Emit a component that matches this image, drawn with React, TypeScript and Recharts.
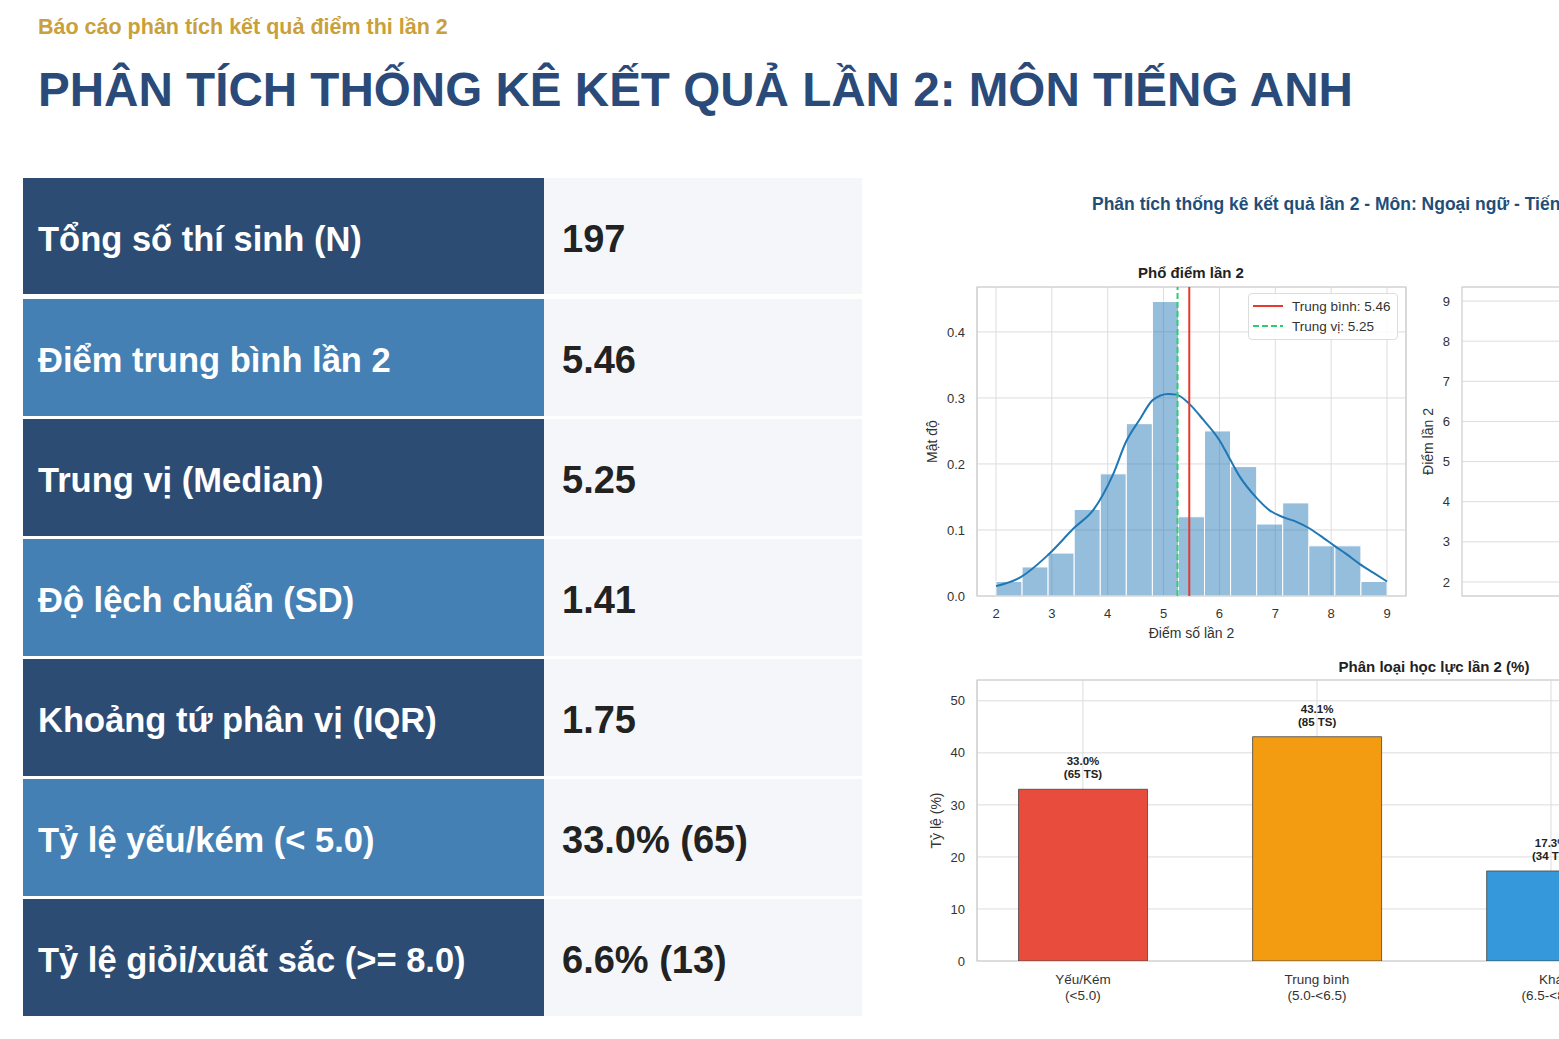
import React from 'react';
import {
  ComposedChart, Bar, Line, XAxis, YAxis, CartesianGrid,
  ReferenceLine, ReferenceArea, LabelList, Cell,
} from 'recharts';

const FONT = '"Liberation Sans", Arial, Helvetica, sans-serif';

// summary table
const statLabels = [
  'Tổng số thí sinh (N)',
  'Điểm trung bình lần 2',
  'Trung vị (Median)',
  'Độ lệch chuẩn (SD)',
  'Khoảng tứ phân vị (IQR)',
  'Tỷ lệ yếu/kém (< 5.0)',
  'Tỷ lệ giỏi/xuất sắc (>= 8.0)',
];
const statValues = ['197', '5.46', '5.25', '1.41', '1.75', '33.0% (65)', '6.6% (13)'];

// histogram (density) of scores, 15 bins from 2 to 9
const binEdges = [2.0, 2.467, 2.933, 3.4, 3.867, 4.333, 4.8, 5.267, 5.733, 6.2, 6.667, 7.133, 7.6, 8.067, 8.533, 9.0];
const binDensity = [0.022, 0.044, 0.065, 0.131, 0.185, 0.261, 0.446, 0.12, 0.25, 0.196, 0.109, 0.141, 0.076, 0.076, 0.022];

// kde curve
const kdeX = [2.0, 2.45, 2.93, 3.41, 3.74, 4.09, 4.33, 4.57, 4.81, 5.08, 5.23, 5.46, 5.71, 6.0, 6.19, 6.37, 6.66, 6.91, 7.15, 7.39, 7.6, 7.81, 8.06, 8.28, 8.52, 8.76, 9.0];
const kdeY = [0.015, 0.029, 0.062, 0.104, 0.13, 0.183, 0.234, 0.267, 0.297, 0.306, 0.305, 0.291, 0.267, 0.236, 0.207, 0.18, 0.149, 0.129, 0.119, 0.112, 0.103, 0.091, 0.076, 0.063, 0.048, 0.035, 0.022];

const meanScore = 5.46;
const medianScore = 5.25;

const histTicksX = [2, 3, 4, 5, 6, 7, 8, 9];
const histTicksY = [0, 0.1, 0.2, 0.3, 0.4];
const boxTicksY = [2, 3, 4, 5, 6, 7, 8, 9];
const pctTicks = [0, 10, 20, 30, 40, 50];

// classification bars
const classNames = ['Yếu/Kém', 'Trung bình', 'Khá', 'Giỏi'];
const classRanges = ['(<5.0)', '(5.0-<6.5)', '(6.5-<8.0)', '(>=8.0)'];
const classPct = [33.0, 43.1, 17.3, 6.6];
const classCount = [65, 85, 34, 13];
const classColors = ['#e74c3c', '#f39c12', '#3498db', '#2ecc71'];

const kdeData = kdeX.map((x, i) => ({ x, d: kdeY[i] }));
const classData = classNames.map((n, i) => ({ pos: i, pct: classPct[i], count: classCount[i] }));

const at = (x: number, y: number): React.CSSProperties => ({ position: 'absolute', left: x, top: y });

const tickStyle = { fontSize: 13, fill: '#333', fontFamily: FONT };
const axisTitle = { fontSize: 14, fill: '#333', fontFamily: FONT };
const GRID = '#dcdcdc';
const FRAME = '#cccccc';

function ClassTick(props: any) {
  const { x, y, payload } = props;
  const i = payload.value;
  return (
    <text x={x} y={y} textAnchor="middle" fontSize={13.5} fill="#333" fontFamily={FONT}>
      <tspan x={x} dy={15}>{classNames[i]}</tspan>
      <tspan x={x} dy={16}>{classRanges[i]}</tspan>
    </text>
  );
}

function PctLabel(props: any) {
  const { x, y, width, index } = props;
  const cx = x + width / 2;
  return (
    <text textAnchor="middle" fontSize={11.5} fontWeight="bold" fill="#222" fontFamily={FONT}>
      <tspan x={cx} y={y - 24}>{classPct[index].toFixed(1)}%</tspan>
      <tspan x={cx} y={y - 11}>({classCount[index]} TS)</tspan>
    </text>
  );
}

function StatTable() {
  return (
    <>
      {statLabels.map((label, i) => {
        const top = i === 0 ? 178 : 179 + 120 * i;
        const h = i === 0 ? 116 : 117;
        return (
          <div key={label} style={{ ...at(23, top), width: 839, height: h, display: 'flex' }}>
            <div style={{
              width: 521, height: '100%', background: i % 2 === 0 ? '#2c4c74' : '#4580b5',
              display: 'flex', alignItems: 'center', paddingLeft: 15, paddingTop: 6, boxSizing: 'border-box',
              color: '#fff', fontWeight: 'bold', fontSize: 34.5,
            }}>{label}</div>
            <div style={{
              width: 318, height: '100%', background: '#f4f6fa',
              display: 'flex', alignItems: 'center', paddingLeft: 18, paddingTop: 6, boxSizing: 'border-box',
              color: '#222', fontWeight: 'bold', fontSize: 38,
            }}>{statValues[i]}</div>
          </div>
        );
      })}
    </>
  );
}

function HistChart() {
  return (
    <div style={{ ...at(920, 260), width: 500, height: 396 }}>
      <ComposedChart width={500} height={396} data={kdeData} margin={{ top: 27, right: 14, bottom: 20, left: 0 }}>
        <CartesianGrid stroke={GRID} strokeWidth={1} />
        <XAxis
          dataKey="x" type="number" domain={[1.66, 9.34]} allowDataOverflow ticks={histTicksX}
          tick={tickStyle} tickSize={0} tickMargin={13} axisLine={false} height={40}
          label={{ value: 'Điểm số lần 2', position: 'center', dy: 17, style: axisTitle }}
        />
        <YAxis
          type="number" domain={[0, 0.468]} allowDataOverflow ticks={histTicksY}
          tickFormatter={(v: number) => v.toFixed(1)}
          tick={tickStyle} tickSize={0} tickMargin={12} axisLine={false} width={57}
          label={{ value: 'Mật độ', angle: -90, position: 'center', dx: -16, style: axisTitle }}
        />
        {binDensity.map((d, i) => (
          <ReferenceArea
            key={i} x1={binEdges[i]} x2={binEdges[i + 1]} y1={0} y2={d}
            fill="#1f77b4" fillOpacity={0.48} stroke="#ffffff" strokeWidth={1} strokeOpacity={1}
          />
        ))}
        <ReferenceArea y1={0} y2={0.468} fill="none" stroke={FRAME} strokeWidth={1.2} strokeOpacity={1} />
        <Line type="monotone" dataKey="d" stroke="#1f77b4" strokeWidth={2} dot={false} isAnimationActive={false} />
        <ReferenceLine x={medianScore} stroke="#2ecc71" strokeWidth={2} strokeDasharray="6 3" />
        <ReferenceLine x={meanScore} stroke="#e63a2e" strokeWidth={2} />
      </ComposedChart>
      <div style={{
        position: 'absolute', left: 1248 - 920, top: 293 - 260, width: 150, height: 47,
        border: '1px solid #dddddd', borderRadius: 4, background: 'rgba(255,255,255,0.85)',
        boxSizing: 'border-box', fontSize: 13.5, color: '#333', fontFamily: FONT,
      }}>
        {[
          { text: `Trung bình: ${meanScore.toFixed(2)}`, color: '#e63a2e', dash: false },
          { text: `Trung vị: ${medianScore.toFixed(2)}`, color: '#2ecc71', dash: true },
        ].map((r, i) => (
          <div key={i} style={{ position: 'absolute', left: 4, top: 4 + i * 20, height: 16, display: 'flex', alignItems: 'center' }}>
            <svg width={30} height={4} style={{ marginRight: 9 }}>
              <line x1={0} y1={2} x2={30} y2={2} stroke={r.color} strokeWidth={2} strokeDasharray={r.dash ? '6 3' : undefined} />
            </svg>
            <span>{r.text}</span>
          </div>
        ))}
      </div>
    </div>
  );
}

function BoxChart() {
  return (
    <div style={{ ...at(1410, 260), width: 600, height: 376 }}>
      <ComposedChart width={600} height={376} data={[{ k: 'Tiếng Anh' }]} margin={{ top: 27, right: 119, bottom: 40, left: 0 }}>
        <CartesianGrid stroke={GRID} strokeWidth={1} vertical={false} />
        <XAxis dataKey="k" type="category" hide />
        <YAxis
          type="number" domain={[1.65, 9.35]} allowDataOverflow ticks={boxTicksY}
          tick={tickStyle} tickSize={0} tickMargin={12} axisLine={false} width={52}
          label={{ value: 'Điểm lần 2', angle: -90, position: 'center', dx: -8, style: axisTitle }}
        />
        <ReferenceArea y1={1.65} y2={9.35} fill="none" stroke={FRAME} strokeWidth={1.2} strokeOpacity={1} />
      </ComposedChart>
    </div>
  );
}

function ClassChart() {
  return (
    <div style={{ ...at(920, 640), width: 1000, height: 371 }}>
      <ComposedChart width={1000} height={371} data={classData} margin={{ top: 40, right: 29, bottom: 0, left: 0 }} barCategoryGap="22.5%">
        <CartesianGrid stroke={GRID} strokeWidth={1} />
        <XAxis
          dataKey="pos" type="number" domain={[-0.4525, 3.4525]} allowDataOverflow ticks={[0, 1, 2, 3]}
          tick={<ClassTick />} tickSize={0} tickMargin={8} axisLine={false} height={50} interval={0}
        />
        <YAxis
          type="number" domain={[0, 54]} allowDataOverflow ticks={pctTicks}
          tick={tickStyle} tickSize={0} tickMargin={12} axisLine={false} width={57}
          label={{ value: 'Tỷ lệ (%)', angle: -90, position: 'center', dx: -12, style: axisTitle }}
        />
        <ReferenceArea y1={0} y2={54} fill="none" stroke={FRAME} strokeWidth={1.2} strokeOpacity={1} />
        <Bar dataKey="pct" stroke="#444" strokeWidth={0.8} isAnimationActive={false}>
          {classData.map((d, i) => <Cell key={i} fill={classColors[i]} />)}
          <LabelList dataKey="pct" content={<PctLabel />} />
        </Bar>
      </ComposedChart>
    </div>
  );
}

export default function App() {
  return (
    <div style={{ position: 'absolute', left: 0, top: 0, width: 1559, height: 1039, overflow: 'hidden', background: '#fff', fontFamily: FONT }}>
      <div style={{ ...at(38, 15), fontSize: 21.5, lineHeight: '24px', fontWeight: 'bold', color: '#c9a03a', whiteSpace: 'nowrap' }}>
        Báo cáo phân tích kết quả điểm thi lần 2
      </div>
      <div style={{ ...at(38, 66), fontSize: 47.6, lineHeight: '47px', fontWeight: 'bold', color: '#2a4b7a', whiteSpace: 'nowrap' }}>
        PHÂN TÍCH THỐNG KÊ KẾT QUẢ LẦN 2: MÔN TIẾNG ANH
      </div>
      <StatTable />
      <div style={{ ...at(1092, 194), fontSize: 17.5, lineHeight: '20px', fontWeight: 'bold', color: '#1f4e79', whiteSpace: 'nowrap' }}>
        Phân tích thống kê kết quả lần 2 - Môn: Ngoại ngữ - Tiếng Anh
      </div>
      <div style={{ ...at(1091, 264), width: 200, textAlign: 'center', fontSize: 15, lineHeight: '18px', fontWeight: 'bold', color: '#222' }}>
        Phổ điểm lần 2
      </div>
      <div style={{ ...at(1284, 658), width: 300, textAlign: 'center', fontSize: 15, lineHeight: '18px', fontWeight: 'bold', color: '#222' }}>
        Phân loại học lực lần 2 (%)
      </div>
      <HistChart />
      <BoxChart />
      <ClassChart />
    </div>
  );
}
